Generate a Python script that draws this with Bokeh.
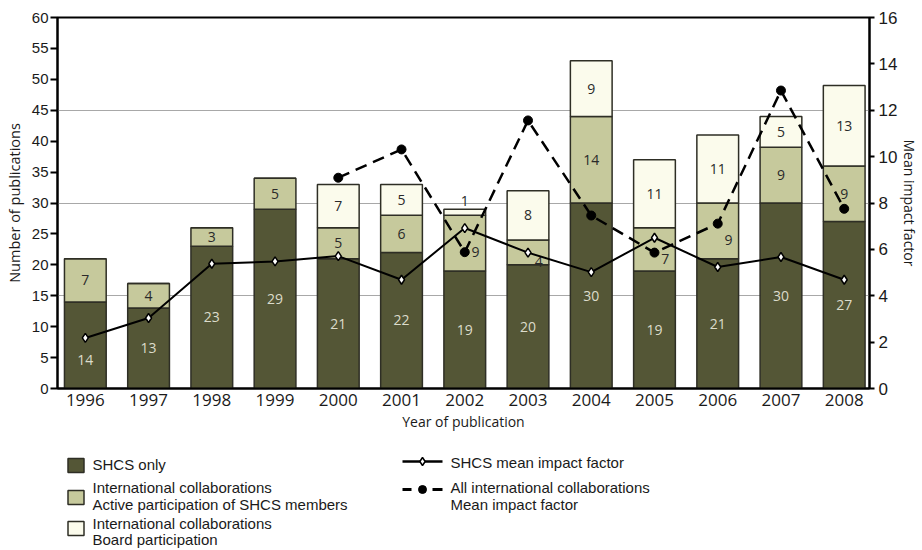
from bokeh.plotting import figure
from bokeh.models import (ColumnDataSource, Range1d, LinearAxis, FixedTicker,
                          SingleIntervalTicker)
from bokeh.layouts import column
from bokeh.core.properties import value
from bokeh.embed import file_html
from bokeh.resources import INLINE

# ---------------- data ----------------
years = ["1996", "1997", "1998", "1999", "2000", "2001", "2002",
         "2003", "2004", "2005", "2006", "2007", "2008"]
shcs_only = [14, 13, 23, 29, 21, 22, 19, 20, 30, 19, 21, 30, 27]
intl_active = [7, 4, 3, 5, 5, 6, 9, 4, 14, 7, 9, 9, 9]
intl_board = [0, 0, 0, 0, 7, 5, 1, 8, 9, 11, 11, 5, 13]
shcs_if = [2.18, 3.04, 5.38, 5.48, 5.71, 4.69, 6.92, 5.86, 5.02, 6.50, 5.24, 5.67, 4.69]
intl_years = ["2000", "2001", "2002", "2003", "2004", "2005", "2006", "2007", "2008"]
intl_if = [9.09, 10.31, 5.88, 11.56, 7.46, 5.86, 7.11, 12.85, 7.75]

legend_bars = ["SHCS only",
               "International collaborations\nActive participation of SHCS members",
               "International collaborations\nBoard participation"]
legend_lines = ["SHCS mean impact factor",
                "All international collaborations\nMean impact factor"]

DARK = "#545636"
MID = "#c6c99c"
LIGHT = "#fbfbec"
EDGE = "#2e2e25"
TXT = "#1a1a1a"

LEFT_MAX = 60.0
RIGHT_MAX = 16.0
scale = LEFT_MAX / RIGHT_MAX
X0, X1 = -0.44, 12.40

W = 922
H_MAIN, H_KEY = 440, 108
FL, FR, FT, FB = 57, 869, 17, 388   # frame edges in canvas pixels

xs = list(range(len(years)))
ix_intl = [years.index(y) for y in intl_years]

# ---------------- main figure ----------------
p = figure(width=W, height=H_MAIN, x_range=Range1d(X0, X1), y_range=Range1d(0, LEFT_MAX),
           toolbar_location=None, output_backend="svg",
           min_border_left=FL, min_border_right=W - FR, min_border_top=FT,
           min_border_bottom=H_MAIN - FB)
p.extra_y_ranges = {"if": Range1d(0, RIGHT_MAX)}
p.outline_line_color = "black"
p.outline_line_width = 2

p.xgrid.visible = False
p.ygrid.ticker = FixedTicker(ticks=[15, 30, 45])
p.ygrid.grid_line_color = "#a8a8a8"
p.ygrid.grid_line_width = 1.2

xa = p.xaxis[0]
xa.ticker = FixedTicker(ticks=xs)
xa.major_label_overrides = {i: y for i, y in enumerate(years)}
xa.major_tick_out = 0
xa.major_tick_in = 0
xa.minor_tick_out = 0
xa.axis_line_width = 2
xa.axis_line_color = "black"
xa.major_label_text_font = "Open Sans"
xa.major_label_text_font_size = "17px"
xa.major_label_text_color = TXT
xa.major_label_standoff = 5
xa.axis_label = "Year of publication"
xa.axis_label_text_font = "Open Sans"
xa.axis_label_text_font_size = "14px"
xa.axis_label_text_font_style = "normal"
xa.axis_label_text_color = TXT
xa.axis_label_standoff = 3

ya = p.yaxis[0]
ya.ticker = SingleIntervalTicker(interval=5)
ya.minor_tick_out = 0
ya.minor_tick_in = 0
ya.major_tick_out = 7
ya.major_tick_in = 0
ya.major_tick_line_width = 2
ya.axis_line_width = 2
ya.axis_line_color = "black"
ya.major_label_text_font = "Liberation Sans"
ya.major_label_text_font_size = "15px"
ya.major_label_text_color = TXT
ya.major_label_standoff = 2
ya.axis_label = "Number of publications"
ya.axis_label_text_font = "Open Sans"
ya.axis_label_text_font_size = "14.5px"
ya.axis_label_text_font_style = "normal"
ya.axis_label_text_color = TXT
ya.axis_label_standoff = 5

ra = LinearAxis(y_range_name="if", ticker=SingleIntervalTicker(interval=2))
ra.minor_tick_out = 0
ra.minor_tick_in = 0
ra.major_tick_out = 5
ra.major_tick_in = 0
ra.major_tick_line_width = 2
ra.axis_line_width = 2
ra.axis_line_color = "black"
ra.major_label_text_font = "Liberation Sans"
ra.major_label_text_font_size = "17px"
ra.major_label_text_color = TXT
ra.major_label_standoff = 4
ra.axis_label = "Mean impact factor"
ra.axis_label_text_font = "Open Sans"
ra.axis_label_text_font_size = "14px"
ra.axis_label_text_font_style = "normal"
ra.axis_label_text_color = TXT
ra.axis_label_standoff = 0
p.add_layout(ra, "right")

# stacked bars
src = ColumnDataSource(dict(x=xs, shcs=shcs_only, active=intl_active, board=intl_board))
p.vbar_stack(["shcs", "active", "board"], x="x", width=0.66, source=src,
             fill_color=[DARK, MID, LIGHT], line_color=EDGE, line_width=1.5)

# bar labels
shcs_line_left = [v * scale for v in shcs_if]
intl_line_left = [None] * len(years)
for i, v in zip(ix_intl, intl_if):
    intl_line_left[i] = v * scale

dx, dy, dt = [], [], []
ax_, ay_, at_ = [], [], []
for i in xs:
    s, a, b = shcs_only[i], intl_active[i], intl_board[i]
    dx.append(i)
    dy.append(min(s / 2.0, shcs_line_left[i] - 3.5))
    dt.append(str(s))
    m = s + a / 2.0
    near = [abs(m - shcs_line_left[i])]
    if intl_line_left[i] is not None:
        near.append(abs(m - intl_line_left[i]))
    if min(near) < 1.8:
        ax_.append(i + 0.17)
        ay_.append(m - 1.5)
    else:
        ax_.append(i)
        ay_.append(m)
    at_.append(str(a))
    if b > 0:
        ax_.append(i)
        ay_.append(s + a + b + 1.4 if b < 2 else s + a + b / 2.0)
        at_.append(str(b))

p.text(x=dx, y=dy, text=dt, text_align="center", text_baseline="middle",
       text_font=value("Open Sans"), text_font_size="14px", text_color="#dcdccb")
p.text(x=ax_, y=ay_, text=at_, text_align="center", text_baseline="middle",
       text_font=value("Open Sans"), text_font_size="14px", text_color="#2a2a2a")

# impact factor lines
p.line(ix_intl, intl_if, y_range_name="if", line_color="black", line_width=2.5,
       line_dash="12 7")
p.scatter(ix_intl, intl_if, y_range_name="if", marker="circle", size=9,
          fill_color="black", line_color="black")
p.line(xs, shcs_if, y_range_name="if", line_color="black", line_width=2)
p.scatter(xs, shcs_if, y_range_name="if", marker="diamond", size=9,
          fill_color="white", line_color="black", line_width=1.5)

# ---------------- key figure (coordinates = canvas pixels) ----------------
TOP = H_MAIN
kg = figure(width=W, height=H_KEY, x_range=Range1d(FL, FR),
            y_range=Range1d(TOP + H_KEY, TOP),
            toolbar_location=None, output_backend="svg",
            min_border_left=FL, min_border_right=W - FR, min_border_top=0,
            min_border_bottom=0, x_axis_type=None, y_axis_type=None)
kg.outline_line_color = None
kg.grid.visible = False

kg.rect(x=[75.5, 75.5, 75.5], y=[465, 497, 528], width=16, height=14,
        fill_color=[DARK, MID, LIGHT], line_color=EDGE, line_width=1.5)
kg.line(x=[402, 442], y=[461, 461], line_color="black", line_width=2.5)
kg.scatter(x=[422], y=[461], marker="diamond", size=8, fill_color="white",
           line_color="black", line_width=1.5)
kg.segment(x0=[402, 432], y0=[489, 489], x1=[411, 442], y1=[489, 489],
           line_color="black", line_width=3)
kg.scatter(x=[422], y=[489], marker="circle", size=8, fill_color="black",
           line_color="black")

kx, ky, kt = [], [], []
for rows, lab in zip([[464], [487, 503.5], [523, 539]], legend_bars):
    for py, line in zip(rows, lab.split("\n")):
        kx.append(92)
        ky.append(py)
        kt.append(line)
for rows, lab in zip([[462], [487, 503.5]], legend_lines):
    for py, line in zip(rows, lab.split("\n")):
        kx.append(450)
        ky.append(py)
        kt.append(line)
kg.text(x=kx, y=ky, text=kt, text_align="left", text_baseline="middle",
        text_font=value("Liberation Sans"), text_font_size="15px", text_color=TXT)

layout = column(p, kg, spacing=0)
open("out.html", "w").write(file_html(layout, INLINE))
